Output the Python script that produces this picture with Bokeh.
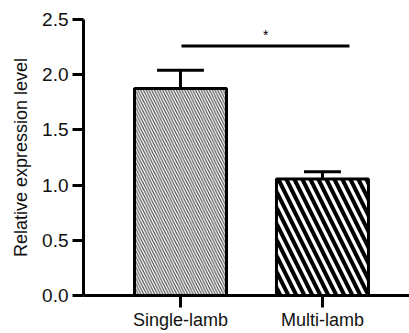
import numpy as np
from bokeh.plotting import figure
from bokeh.models import Range1d, FixedTicker
from bokeh.core.properties import value
from bokeh.embed import file_html
from bokeh.resources import INLINE

groups = ["Single-lamb", "Multi-lamb"]
means = [1.875, 1.055]
errors = [0.165, 0.065]
y_ticks = [0.0, 0.5, 1.0, 1.5, 2.0, 2.5]
sig_level = 2.26
sig_label = "*"

xs = np.arange(len(groups)) + 1.0
FONT = "Liberation Sans"

p = figure(frame_width=326, frame_height=276, output_backend="svg", toolbar_location=None,
           x_range=Range1d(0.317, 2.613), y_range=Range1d(0, 2.5),
           min_border_left=83, min_border_right=0, min_border_top=19,
           min_border_bottom=38)
p.outline_line_color = None
p.grid.visible = False
p.background_fill_color = "white"
p.border_fill_color = "white"

bar_w = 0.648
styles = [dict(hatch_pattern="left_diagonal_line", hatch_scale=5.5, hatch_weight=1.1,
               hatch_color="#444444"),
          dict(hatch_pattern="left_diagonal_line", hatch_scale=16, hatch_weight=4,
               hatch_color="black")]
for i in range(len(groups)):
    p.vbar(x=[xs[i]], top=[means[i]], bottom=0, width=bar_w, fill_color="white",
           line_color="black", line_width=3, **styles[i])

tops = [m + e for m, e in zip(means, errors)]
p.segment(x0=xs, y0=means, x1=xs, y1=tops, line_color="black", line_width=3)
cap_half = [0.165, 0.13]
p.segment(x0=[x - c for x, c in zip(xs, cap_half)], y0=tops,
          x1=[x + c for x, c in zip(xs, cap_half)], y1=tops,
          line_color="black", line_width=3)

# significance bar
p.segment(x0=[xs[0] + 0.007], y0=[sig_level], x1=[xs[1] + 0.19], y1=[sig_level],
          line_color="black", line_width=3)
p.text(x=[(xs[0] + xs[1] + 0.2) / 2], y=[sig_level + 0.1], text=[sig_label],
       text_align="center", text_baseline="middle", text_font=value(FONT),
       text_font_size="14px", text_color="black")

for ax in (p.xaxis[0], p.yaxis[0]):
    ax.axis_line_width = 3
    ax.axis_line_color = "black"
    ax.major_tick_line_width = 3
    ax.major_tick_line_color = "black"
    ax.minor_tick_line_color = None
    ax.major_tick_in = 0
    ax.major_label_text_font = FONT
    ax.major_label_text_color = "#111111"
    ax.major_label_text_font_size = "19px"

p.yaxis.ticker = FixedTicker(ticks=y_ticks)
p.yaxis.major_tick_out = 11
p.yaxis.major_label_standoff = 4
p.yaxis.major_label_overrides = {t: f"{t:.1f}" for t in y_ticks}
p.yaxis.axis_label = "Relative expression level"
p.yaxis.axis_label_text_font = FONT
p.yaxis.axis_label_text_font_style = "normal"
p.yaxis.axis_label_text_font_size = "18px"
p.yaxis.axis_label_text_color = "#111111"
p.yaxis.axis_label_standoff = 8

p.xaxis.ticker = FixedTicker(ticks=list(xs))
p.xaxis.major_label_overrides = {float(x): g for x, g in zip(xs, groups)}
p.xaxis.major_tick_out = 12
p.xaxis.major_label_standoff = 2
p.xaxis.major_label_text_font_size = "18px"

open("out.html", "w").write(file_html(p, INLINE))
